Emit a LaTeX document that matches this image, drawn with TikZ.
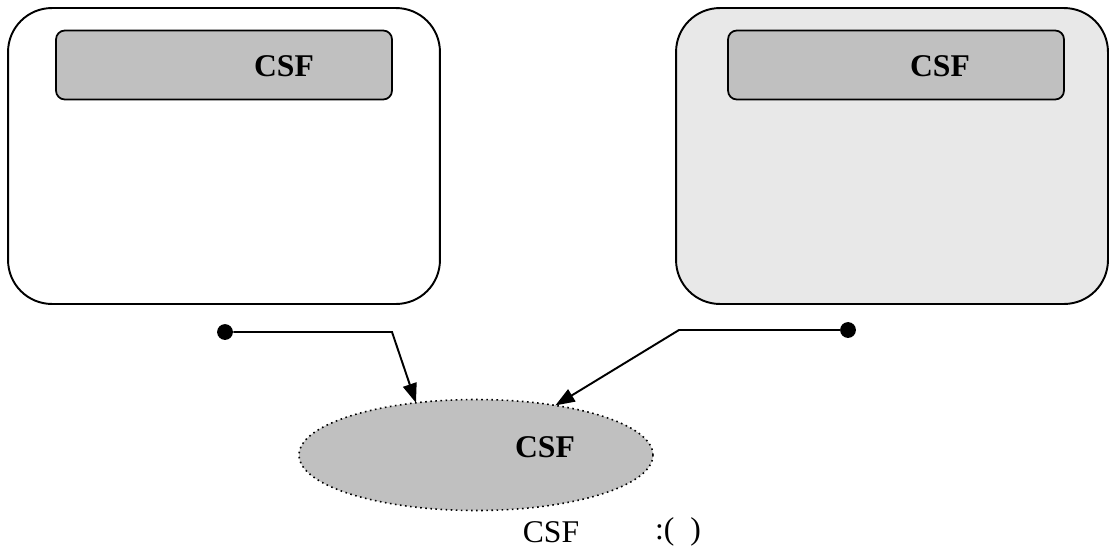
\documentclass[tikz,border=0pt]{standalone}
\usepackage{fontspec}
\setmainfont{Liberation Serif}
\usetikzlibrary{arrows.meta,shapes.geometric}
\definecolor{panelgray}{HTML}{E8E8E8}
\definecolor{headgray}{HTML}{C0C0C0}

\begin{document}
\begin{tikzpicture}[x=0.02cm, y=-0.02cm,
  panel/.style={draw, line width=1.1pt, rounded corners=25pt, outer sep=0pt,
    minimum width=8.64cm, minimum height=5.92cm},
  header/.style={draw, line width=1pt, fill=headgray, rounded corners=5pt, outer sep=0pt,
    minimum width=6.72cm, minimum height=1.38cm},
  lbl/.style={font=\fontsize{18}{20}\selectfont\bfseries, inner sep=0pt},
  dot/.style={circle, fill=black, minimum size=9pt, inner sep=0pt},
  link/.style={line width=1.1pt, -{Triangle[length=11pt, width=8pt]}}]
  \useasboundingbox (0,0) rectangle (1114,558);

  % two panels with their headers
  \node[panel] (leftpanel) at (224,156) {};
  \node[panel, fill=panelgray] (rightpanel) at (892,156) {};
  \node[header] (lefthead) at (224,65) {};
  \node[header] (righthead) at (896,65) {};
  \node[lbl] (lefttxt) at (284,66) {CSF};
  \node[lbl] (righttxt) at (940,66) {CSF};

  % shared CSF
  \node[ellipse, draw, dotted, line width=0.9pt, fill=headgray, outer sep=0pt, inner sep=0pt,
    minimum width=7.08cm, minimum height=2.22cm] (shared) at (476,455) {};
  \node[lbl] (sharedtxt) at (545,447) {CSF};

  \node[dot] (leftdot) at (225,332) {};
  \node[dot] (rightdot) at (848,330) {};
  \coordinate (leftbend) at (392,332);
  \coordinate (rightbend) at (679,330);

  \draw[link] (leftdot) -- (leftbend) -- (shared.139);
  \draw[link] (rightdot) -- (rightbend) -- (shared.32);

  \node[font=\fontsize{18}{20}\selectfont, inner sep=0pt] (captxt) at (551,532) {CSF};
  \node[font=\fontsize{18}{20}\selectfont, inner sep=0pt] (capnum) at (678,532) {:(\ \ )};
\end{tikzpicture}
\end{document}
